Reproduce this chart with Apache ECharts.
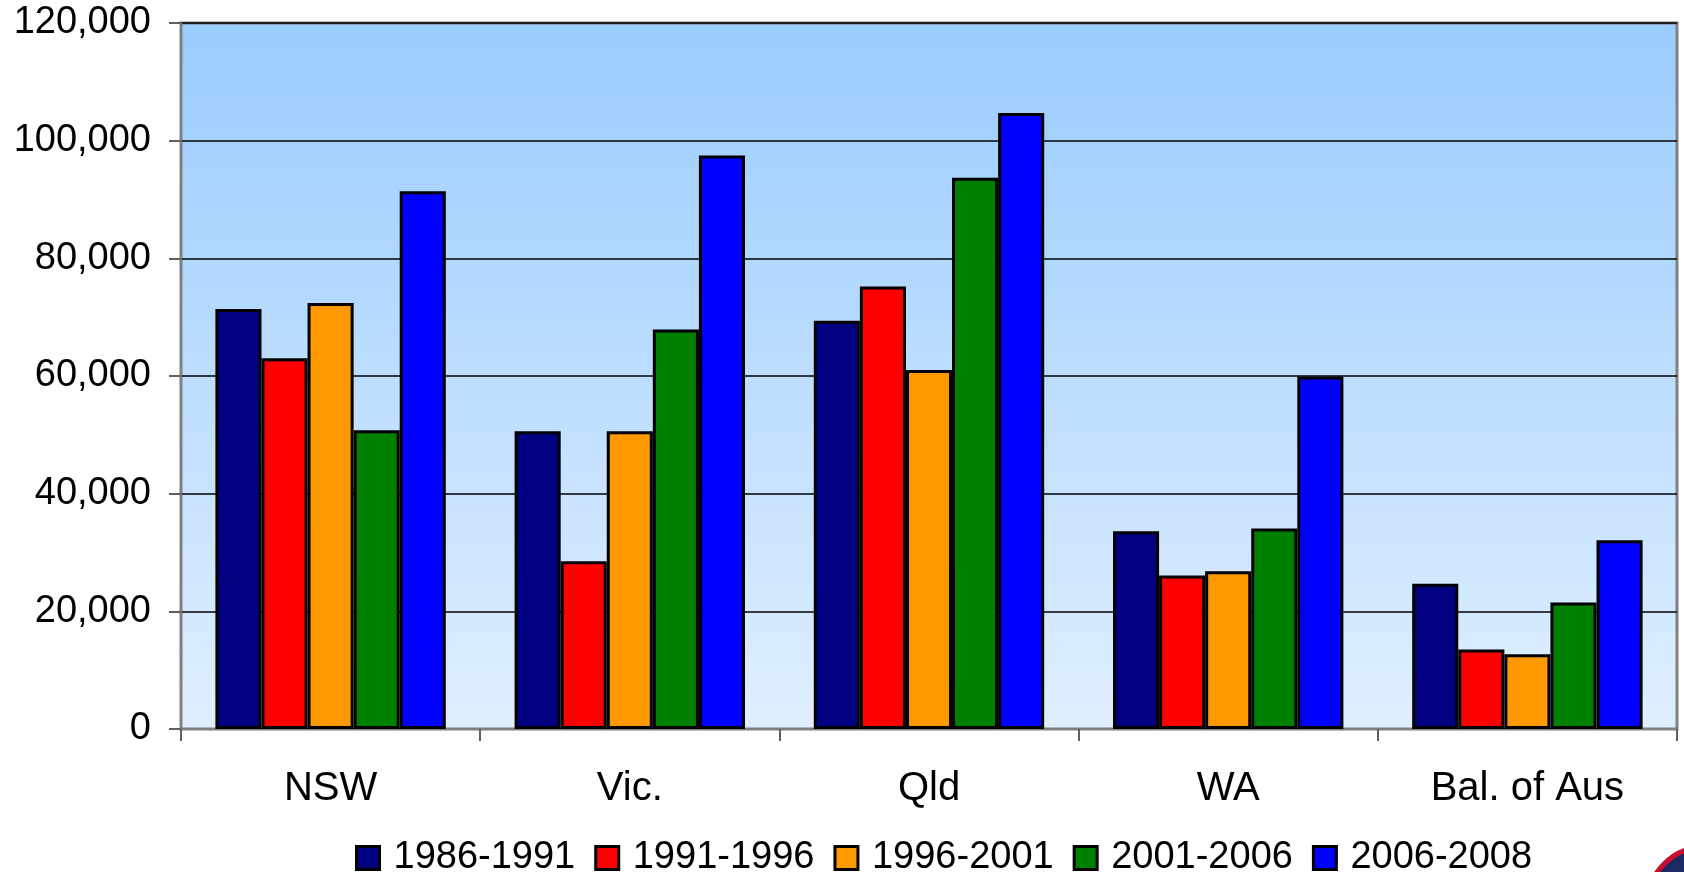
<!DOCTYPE html>
<html>
<head>
<meta charset="utf-8">
<script src="https://cdn.jsdelivr.net/npm/echarts@6/dist/echarts.min.js"></script>
<style>
  html, body { margin: 0; padding: 0; background: #fff; }
  #chart { width: 1684px; height: 872px; }
</style>
</head>
<body>
<div id="chart"></div>
<script>
var regions = ['NSW', 'Vic.', 'Qld', 'WA', 'Bal. of Aus'];
var periods = ['1986-1991', '1991-1996', '1996-2001', '2001-2006', '2006-2008'];
var colors = ['#000080', '#ff0000', '#ff9900', '#008000', '#0000ff'];

var v1986_1991 = [71400, 50600, 69400, 33600, 24700];
var v1991_1996 = [63000, 28500, 75200, 26100, 13500];
var v1996_2001 = [72400, 50600, 61000, 26800, 12700];
var v2001_2006 = [50800, 67900, 93700, 34100, 21500];
var v2006_2008 = [91400, 97500, 104700, 59900, 32100];
var yTicks = [0, 20000, 40000, 60000, 80000, 100000, 120000];

var values = [v1986_1991, v1991_1996, v1996_2001, v2001_2006, v2006_2008];
var font = 'Liberation Sans, Arial, sans-serif';

var myChart = echarts.init(document.getElementById('chart'));
var option = {
    animation: false,
    textStyle: { fontFamily: font },
    grid: {
        left: 181,
        right: 7,
        top: 23,
        bottom: 143,
        show: true,
        borderColor: '#808080',
        borderWidth: 3,
        backgroundColor: new echarts.graphic.LinearGradient(0, 0, 0, 1, [
            { offset: 0, color: '#99ccff' },
            { offset: 1, color: '#e0efff' }
        ])
    },
    // logo peeking in at the bottom right corner
    graphic: [{
        type: 'circle',
        shape: { cx: 1705, cy: 905, r: 58 },
        style: { fill: '#1b2a63', stroke: '#c8102e', lineWidth: 5 },
        silent: true
    }],
    legend: {
        data: periods,
        left: 350,
        top: 834,
        icon: 'rect',
        itemWidth: 23,
        itemHeight: 23,
        itemGap: 19,
        itemStyle: { borderColor: '#000', borderWidth: 3 },
        textStyle: { fontSize: 38, color: '#000', fontFamily: font, padding: [0, 0, 0, 9] }
    },
    xAxis: {
        type: 'category',
        data: regions,
        axisLine: { lineStyle: { color: '#808080', width: 2 } },
        axisTick: { show: true, length: 12, lineStyle: { color: '#606060', width: 2 } },
        axisLabel: { fontSize: 40, color: '#000', margin: 40, fontFamily: font },
        splitLine: { show: false }
    },
    yAxis: {
        type: 'value',
        min: yTicks[0],
        max: yTicks[yTicks.length - 1],
        interval: yTicks[1] - yTicks[0],
        axisLine: { show: true, lineStyle: { color: '#808080', width: 2 } },
        axisTick: { show: true, length: 12, lineStyle: { color: '#606060', width: 2 } },
        axisLabel: {
            fontSize: 38,
            color: '#000',
            margin: 30,
            fontFamily: font,
            formatter: function (v) { return v.toLocaleString('en-US'); }
        },
        splitLine: { show: true, lineStyle: { color: '#000', width: 1.5 } }
    },
    series: periods.map(function (name, i) {
        return {
            name: name,
            type: 'bar',
            data: values[i],
            barGap: '0%',
            barCategoryGap: '23%',
            itemStyle: { color: colors[i], borderColor: '#000', borderWidth: 3 }
        };
    })
};
myChart.setOption(option);
</script>
</body>
</html>
